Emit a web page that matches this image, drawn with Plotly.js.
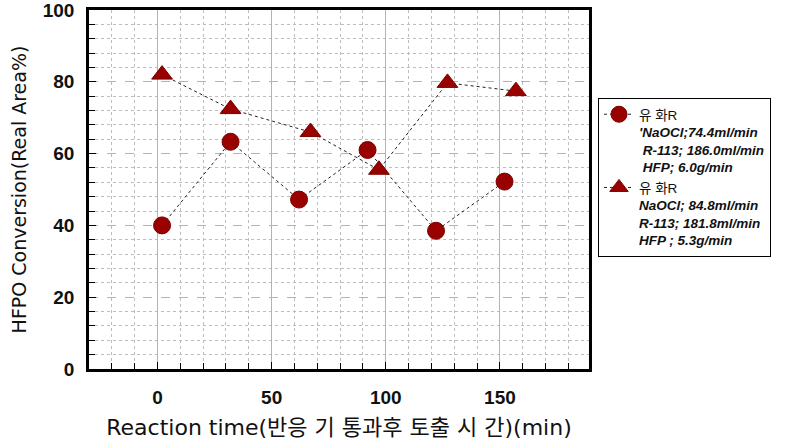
<!DOCTYPE html>
<html>
<head>
<meta charset="utf-8">
<script src="https://cdn.plot.ly/plotly-3.0.1.min.js"></script>
<style>
  body { margin: 0; background: #fff; }
  #chart { width: 793px; height: 447px; }
</style>
</head>
<body>
<div id="chart"></div>
<script>
// reaction time (min) and HFPO conversion for the two runs
var timeA = [2, 32, 62, 92, 122, 152];
var convA = [40.0, 63.3, 47.2, 61.0, 38.5, 52.2];

var timeB = [2, 32, 67, 97, 127, 157];
var convB = [82.0, 72.4, 66.0, 55.5, 79.7, 77.4];

var nameA = '유 화R<br><b><i>\'NaOCl;74.4ml/min<br> R-113; 186.0ml/min<br> HFP; 6.0g/min</i></b>';
var nameB = '유 화R<br><b><i>NaOCl; 84.8ml/min<br>R-113; 181.8ml/min<br>HFP ; 5.3g/min</i></b>';

var red = '#990000';

var traceA = {
    x: timeA,
    y: convA,
    type: 'scatter',
    mode: 'lines+markers',
    name: nameA,
    line: { color: '#222', width: 1, dash: 'dot' },
    marker: { symbol: 'circle', size: 17, color: red, line: { color: '#7a0000', width: 1 } }
};

var traceB = {
    x: timeB,
    y: convB,
    type: 'scatter',
    mode: 'lines+markers',
    name: nameB,
    line: { color: '#222', width: 1, dash: 'dot' },
    marker: { symbol: 'triangle-up', size: 18, color: red, line: { color: '#7a0000', width: 1 } }
};

var tickFont = { family: 'Liberation Sans, Arial, sans-serif', size: 19, weight: 'bold', color: '#111' };

var layout = {
    width: 793,
    height: 447,
    margin: { l: 89, r: 204, t: 10, b: 78 },
    paper_bgcolor: '#fff',
    plot_bgcolor: '#fff',
    showlegend: true,
    xaxis: {
        range: [-30, 189],
        tickvals: [0, 50, 100, 150],
        ticks: 'inside',
        ticklen: 7,
        tickcolor: '#000',
        tickfont: tickFont,
        ticklabelstandoff: 9,
        showline: true,
        linecolor: '#000',
        linewidth: 2.5,
        mirror: true,
        zeroline: false,
        showgrid: true,
        gridcolor: '#b3b3b3',
        gridwidth: 1,
        minor: { dtick: 10, ticks: 'inside', ticklen: 6, tickcolor: '#000', showgrid: true, gridcolor: '#bdbdbd', gridwidth: 1, griddash: 'dot' },
        title: {
            text: 'Reaction time(반응 기 통과후 토출 시 간)(min)',
            font: { family: 'DejaVu Sans, Noto Sans CJK KR, sans-serif', size: 22, color: '#111' },
            standoff: 14
        }
    },
    yaxis: {
        range: [0, 100],
        dtick: 20,
        ticks: 'inside',
        ticklen: 7,
        tickcolor: '#000',
        tickfont: tickFont,
        ticklabelstandoff: 8,
        ticklabeloverflow: 'allow',
        showline: true,
        linecolor: '#000',
        linewidth: 2.5,
        mirror: true,
        zeroline: false,
        showgrid: true,
        gridcolor: '#b3b3b3',
        gridwidth: 1,
        griddash: 'dash',
        minor: { dtick: 4, ticks: 'inside', ticklen: 6, tickcolor: '#000', showgrid: true, gridcolor: '#bdbdbd', gridwidth: 1, griddash: 'dot' },
        title: {
            text: 'HFPO Conversion(Real Area%)',
            font: { family: 'DejaVu Sans, sans-serif', size: 19, color: '#111' },
            standoff: 12
        }
    },
    legend: {
        x: 1.018,
        y: 0.755,
        xanchor: 'left',
        yanchor: 'top',
        bgcolor: '#fff',
        bordercolor: '#000',
        borderwidth: 1,
        valign: 'top',
        tracegroupgap: 4,
        font: { family: 'Liberation Sans, Arial, Noto Sans CJK KR, sans-serif', size: 13.5, color: '#111' }
    }
};

Plotly.newPlot('chart', [traceA, traceB], layout, { displayModeBar: false });
</script>
</body>
</html>
